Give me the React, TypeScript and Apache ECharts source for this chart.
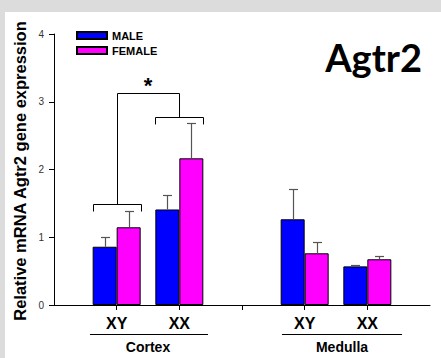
import React, { useEffect, useRef } from 'react';
import * as echarts from 'echarts';

// Category slots along the x axis (ticks sit on slot positions)
const SLOT_KEYS = ['start', 'cortexXY', 'cortexXX', 'gap', 'medullaXY', 'medullaXX', 'end'];
const TICK_LABELS = ['', 'XY', 'XX', '', 'XY', 'XX', ''];
const BAR_SLOTS = [1, 2, 4, 5];

const MALE_MEANS = [0.86, 1.41, 1.265, 0.57];
const MALE_SEM = [0.15, 0.21, 0.445, 0.02];
const FEMALE_MEANS = [1.147, 2.165, 0.763, 0.675];
const FEMALE_SEM = [0.243, 0.525, 0.167, 0.048];

const SERIES_NAMES = ['MALE', 'FEMALE'];
const GROUP_LABELS = ['Cortex', 'Medulla'];
const Y_TITLE = 'Relative mRNA Agtr2 gene expression';
const TITLE = 'Agtr2';

// significance: compared slots, bracket levels (left, right, top), drop, star level
const SIG_SLOTS = [1, 2];
const BRACKET_LEVELS = [1.49, 2.775, 3.13];
const BRACKET_DROP = 0.11;
const STAR_LEVEL = 3.24;

const BAR_W = 24;

function toSlotData(values: number[]) {
  const arr: (number | string)[] = SLOT_KEYS.map(() => '-');
  BAR_SLOTS.forEach((s, i) => (arr[s] = values[i]));
  return arr;
}

function errorSeries(means: number[], sems: number[], offset: number) {
  return {
    type: 'custom',
    z: 4,
    silent: true,
    clip: false,
    data: BAR_SLOTS.map((s, i) => [s, means[i], sems[i]]),
    encode: { x: 0, y: 1 },
    renderItem: (params: any, api: any) => {
      const slot = api.value(0);
      const mean = api.value(1);
      const err = api.value(2);
      const base = api.coord([slot, mean]);
      const top = api.coord([slot, mean + err]);
      const x = Math.round(base[0] + offset) + 0.5;
      const ty = Math.round(top[1]) + 0.5;
      const st = { stroke: '#555', lineWidth: 1.2 };
      return {
        type: 'group',
        children: [
          { type: 'line', shape: { x1: x, y1: base[1], x2: x, y2: ty }, style: st },
          { type: 'line', shape: { x1: x - 4.5, y1: ty, x2: x + 4.5, y2: ty }, style: st },
        ],
      };
    },
  };
}

export default function App() {
  const ref = useRef<HTMLDivElement>(null);
  useEffect(() => {
    document.body.style.margin = '0';
    const chart = echarts.init(ref.current!, undefined, { renderer: 'svg' });
    const font = 'Liberation Sans, Arial, sans-serif';
    const option: any = {
      animation: false,
      textStyle: { fontFamily: font },
      grid: { left: 49, right: 11, top: 22, bottom: 53 },
      legend: {
        data: SERIES_NAMES,
        orient: 'vertical',
        left: 71,
        top: 18,
        padding: 0,
        itemWidth: 30,
        itemHeight: 7,
        itemGap: 4,
        icon: 'rect',
        selectedMode: false,
        textStyle: { fontSize: 11, fontWeight: 'bold', color: '#000', fontFamily: font },
      },
      xAxis: {
        type: 'category',
        data: SLOT_KEYS,
        boundaryGap: false,
        axisLine: { lineStyle: { color: '#000', width: 1 } },
        axisTick: {
          length: 5,
          interval: (i: number) => i > 0 && i < SLOT_KEYS.length - 1,
          lineStyle: { color: '#000' },
        },
        axisLabel: {
          interval: 0,
          margin: 10,
          fontSize: 16,
          fontWeight: 'bold',
          color: '#000',
          formatter: (_v: string, i: number) => TICK_LABELS[i],
        },
        splitLine: { show: false },
      },
      yAxis: {
        type: 'value',
        min: 0,
        max: 4,
        interval: 1,
        axisLine: { show: true, lineStyle: { color: '#000', width: 1 } },
        axisTick: { show: true, length: 5, lineStyle: { color: '#000' } },
        axisLabel: { fontSize: 10, color: '#333', margin: 10 },
        splitLine: { show: false },
      },
      series: [
        {
          name: SERIES_NAMES[0],
          type: 'bar',
          data: toSlotData(MALE_MEANS),
          barWidth: BAR_W,
          barGap: '0%',
          itemStyle: { color: '#0000ff', borderColor: '#000', borderWidth: 1 },
          z: 3,
        },
        {
          name: SERIES_NAMES[1],
          type: 'bar',
          data: toSlotData(FEMALE_MEANS),
          barWidth: BAR_W,
          barGap: '0%',
          itemStyle: { color: '#ff00ff', borderColor: '#000', borderWidth: 1 },
          z: 3,
        },
        errorSeries(MALE_MEANS, MALE_SEM, -BAR_W / 2),
        errorSeries(FEMALE_MEANS, FEMALE_SEM, BAR_W / 2),
        {
          type: 'custom',
          silent: true,
          clip: false,
          z: 5,
          data: [SIG_SLOTS],
          encode: { x: [0, 1] },
          renderItem: (params: any, api: any) => {
            const sA = api.value(0);
            const sB = api.value(1);
            const [lL, lR, lT] = BRACKET_LEVELS;
            const pA = api.coord([sA, lL]);
            const pAd = api.coord([sA, lL - BRACKET_DROP]);
            const pB = api.coord([sB, lR]);
            const pBd = api.coord([sB, lR - BRACKET_DROP]);
            const pT = api.coord([sA, lT]);
            const pStar = api.coord([sA, STAR_LEVEL]);
            const st = { stroke: '#000', lineWidth: 1 };
            const r = (v: number) => Math.round(v) + 0.5;
            const xA = r(pA[0]);
            const xB = r(pB[0]);
            const yA = r(pA[1]);
            const yB = r(pB[1]);
            const yT = r(pT[1]);
            const bracket = (xc: number, y: number, yd: number) => ({
              type: 'polyline',
              shape: { points: [[xc - BAR_W, yd], [xc - BAR_W, y], [xc + BAR_W, y], [xc + BAR_W, yd]] },
              style: { ...st, fill: null },
            });
            return {
              type: 'group',
              children: [
                bracket(xA, yA, pAd[1]),
                bracket(xB, yB, pBd[1]),
                {
                  type: 'polyline',
                  shape: { points: [[xA, yA], [xA, yT], [xB, yT], [xB, yB]] },
                  style: { ...st, fill: null },
                },
                {
                  type: 'text',
                  x: (pA[0] + pB[0]) / 2,
                  y: pStar[1],
                  style: {
                    text: '*',
                    fontSize: 22,
                    fontWeight: 'bold',
                    fontFamily: font,
                    fill: '#000',
                    align: 'center',
                    verticalAlign: 'middle',
                  },
                },
              ],
            };
          },
        },
      ],
      graphic: [
        {
          type: 'text',
          x: 15,
          y: 159,
          rotation: Math.PI / 2,
          style: {
            text: Y_TITLE,
            fontSize: 16.5,
            fontWeight: 'bold',
            fontFamily: font,
            fill: '#000',
            align: 'center',
            verticalAlign: 'middle',
          },
        },
        {
          type: 'text',
          x: 417,
          y: 45,
          style: {
            text: TITLE,
            fontSize: 38,
            fontWeight: 'bold',
            fontFamily: 'Lato, sans-serif',
            fill: '#000',
            align: 'right',
            verticalAlign: 'middle',
          },
        },
        { type: 'line', shape: { x1: 85, y1: 322.5, x2: 203, y2: 322.5 }, style: { stroke: '#000', lineWidth: 1 } },
        { type: 'line', shape: { x1: 277, y1: 322.5, x2: 397, y2: 322.5 }, style: { stroke: '#000', lineWidth: 1 } },
        {
          type: 'text',
          x: 143,
          y: 335,
          style: { text: GROUP_LABELS[0], fontSize: 14, fontWeight: 'bold', fontFamily: font, fill: '#000', align: 'center', verticalAlign: 'middle' },
        },
        {
          type: 'text',
          x: 337,
          y: 335,
          style: { text: GROUP_LABELS[1], fontSize: 14, fontWeight: 'bold', fontFamily: font, fill: '#000', align: 'center', verticalAlign: 'middle' },
        },
      ],
    };
    chart.setOption(option);
    return () => chart.dispose();
  }, []);
  return (
    <div style={{ position: 'relative', width: 441, height: 358, background: '#dcdcdc', overflow: 'hidden' }}>
      <div
        ref={ref}
        style={{ position: 'absolute', left: 5, top: 12, width: 436, height: 346, background: '#fff' }}
      />
    </div>
  );
}
